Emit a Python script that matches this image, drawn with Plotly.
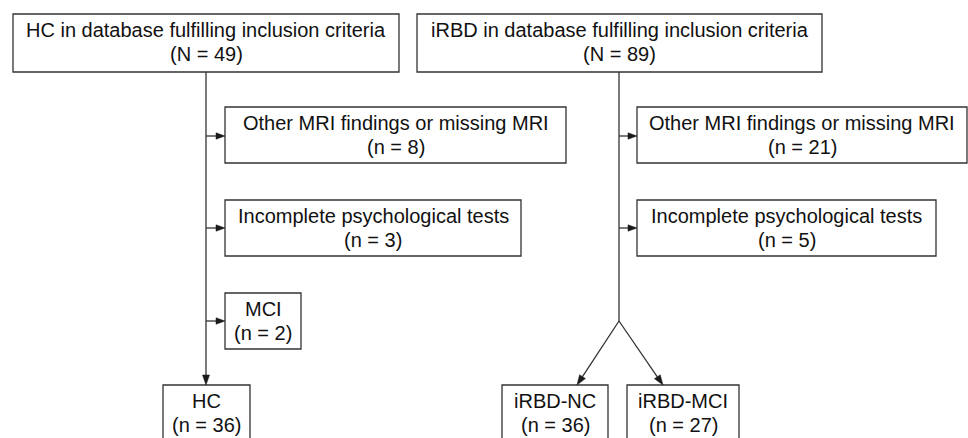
import math
import plotly.graph_objects as go

# ---------------- data ----------------
top_labels = ["HC in database fulfilling inclusion criteria",
              "iRBD in database fulfilling inclusion criteria"]
top_counts = [49, 89]
exclusion_labels = ["Other MRI findings or missing MRI",
                    "Incomplete psychological tests",
                    "MCI"]
hc_excluded = [8, 3, 2]
irbd_excluded = [21, 5]
final_labels = ["HC", "iRBD-NC", "iRBD-MCI"]
final_counts = [36, 36, 27]

# ---------------- layout (pixel coordinates of boxes) ----------------
W, H = 968, 438
LINE = "#333333"
TEXT = "#111111"
FONT = "Liberation Sans, Arial, sans-serif"
FS = 20

boxes = {
    "hc_top":   (13, 399, 14, 72),
    "irbd_top": (417, 822, 14, 72),
    "hc_ex0":   (225, 566, 107, 163),
    "hc_ex1":   (225, 521, 200, 256),
    "hc_ex2":   (225, 301, 293, 349),
    "ir_ex0":   (637, 967, 107, 163),
    "ir_ex1":   (637, 936, 200, 256),
    "hc_fin":   (163, 250, 385, 441),
    "nc_fin":   (502, 608, 385, 441),
    "mci_fin":  (627, 739, 385, 441),
}
box_text = {
    "hc_top":   (top_labels[0], f"(N = {top_counts[0]})"),
    "irbd_top": (top_labels[1], f"(N = {top_counts[1]})"),
    "hc_ex0":   (exclusion_labels[0], f"(n = {hc_excluded[0]})"),
    "hc_ex1":   (exclusion_labels[1], f"(n = {hc_excluded[1]})"),
    "hc_ex2":   (exclusion_labels[2], f"(n = {hc_excluded[2]})"),
    "ir_ex0":   (exclusion_labels[0], f"(n = {irbd_excluded[0]})"),
    "ir_ex1":   (exclusion_labels[1], f"(n = {irbd_excluded[1]})"),
    "hc_fin":   (final_labels[0], f"(n = {final_counts[0]})"),
    "nc_fin":   (final_labels[1], f"(n = {final_counts[1]})"),
    "mci_fin":  (final_labels[2], f"(n = {final_counts[2]})"),
}

hc_x, ir_x = 206, 619
side_y = [136, 228, 321]
split_y = 321

shapes = []
annotations = []

for key, (x0, x1, y0, y1) in boxes.items():
    shapes.append(dict(type="rect", xref="x", yref="y", x0=x0, x1=x1, y0=y0, y1=y1,
                       line=dict(color=LINE, width=1.3), fillcolor="white", layer="above"))
    l1, l2 = box_text[key]
    cx = (x0 + x1) / 2
    for txt, dy in ((l1, 16), (l2, 40)):
        annotations.append(dict(x=cx, y=y0 + dy, xref="x", yref="y", text=txt,
                                showarrow=False, xanchor="center", yanchor="middle",
                                font=dict(family=FONT, size=FS, color=TEXT)))


def line(x0, y0, x1, y1):
    shapes.append(dict(type="line", xref="x", yref="y", x0=x0, y0=y0, x1=x1, y1=y1,
                       line=dict(color=LINE, width=1.3), layer="below"))


def arrow(x0, y0, x1, y1, length=10, half=3.5):
    dx, dy = x1 - x0, y1 - y0
    d = math.hypot(dx, dy)
    ux, uy = dx / d, dy / d
    bx, by = x1 - ux * length, y1 - uy * length
    line(x0, y0, bx, by)
    px, py = -uy * half, ux * half
    path = (f"M {x1},{y1} L {bx + px},{by + py} L {bx - px},{by - py} Z")
    shapes.append(dict(type="path", xref="x", yref="y", path=path,
                       fillcolor="#1a1a1a", line=dict(color="#1a1a1a", width=0.5)))


# HC branch
arrow(hc_x, boxes["hc_top"][3], hc_x, boxes["hc_fin"][2])
for i, y in enumerate(side_y):
    arrow(hc_x, y, boxes[f"hc_ex{i}"][0], y, length=9, half=3.2)

# iRBD branch
line(ir_x, boxes["irbd_top"][3], ir_x, split_y)
for i, y in enumerate(side_y[:2]):
    arrow(ir_x, y, boxes[f"ir_ex{i}"][0], y, length=9, half=3.2)
arrow(ir_x, split_y, 577, boxes["nc_fin"][2])
arrow(ir_x, split_y, 663, boxes["mci_fin"][2])

fig = go.Figure()
fig.add_trace(go.Scatter(x=[0, W], y=[0, H], mode="markers",
                         marker=dict(opacity=0), hoverinfo="skip", showlegend=False))
fig.update_layout(
    width=W, height=H, margin=dict(l=0, r=0, t=0, b=0),
    paper_bgcolor="white", plot_bgcolor="white",
    xaxis=dict(range=[0, W], visible=False, fixedrange=True),
    yaxis=dict(range=[H, 0], visible=False, fixedrange=True),
    shapes=shapes, annotations=annotations, showlegend=False,
)
fig.write_html("out.html", config={"displayModeBar": False},
               post_script="document.body.style.margin='0';document.body.style.overflow='hidden';")
